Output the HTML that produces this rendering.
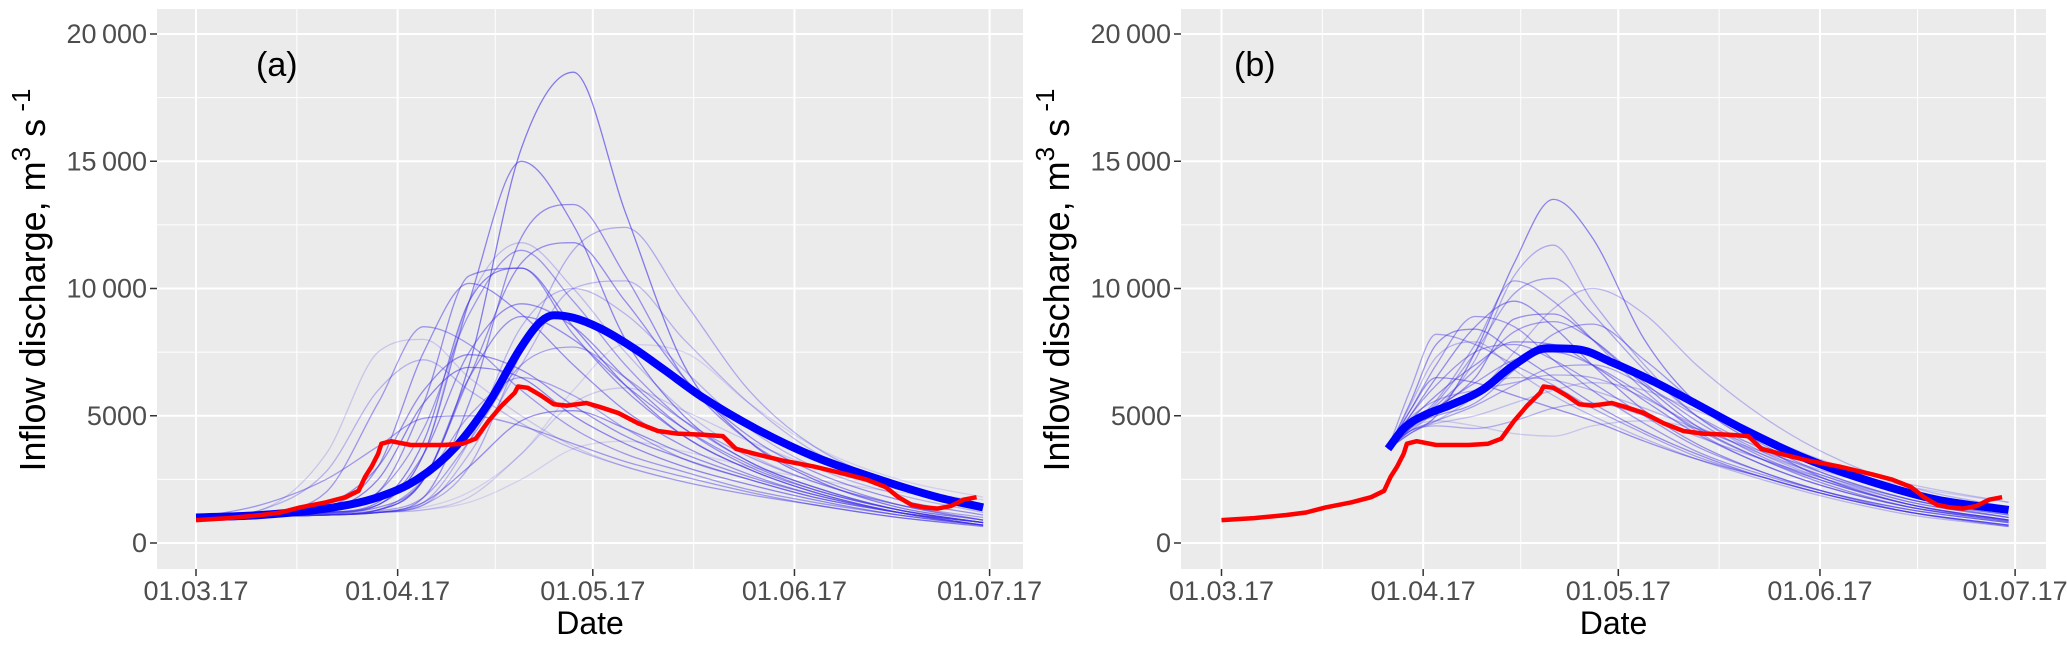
<!DOCTYPE html>
<html><head><meta charset="utf-8">
<style>
body{margin:0;background:#fff;}
svg{display:block;font-family:"Liberation Sans",sans-serif;}
</style></head>
<body>
<svg id="fig" width="2067" height="646" viewBox="0 0 2067 646"></svg>
<script>
// ---------- data ----------
const yTicks = [0, 5000, 10000, 15000, 20000];
const yTickLabels = ["0", "5000", "10\u2009000", "15\u2009000", "20\u2009000"];
const xTickDays = [0, 31, 61, 92, 122];
const xTickLabels = ["01.03.17", "01.04.17", "01.05.17", "01.06.17", "01.07.17"];

const obsDays = [0,5,10,13,16,20,23,25,26,27,28,28.5,30,33,38,41,43,45,47,49,49.5,51,53,55,57,60,62,65,68,71,74,78,81,83,86,90,95,100,103,106,108,110,112,114,116,118,120];
const obsVals = [900,980,1100,1200,1400,1600,1800,2050,2600,3000,3500,3900,4000,3850,3850,3900,4100,4800,5400,5900,6150,6100,5800,5450,5400,5500,5350,5100,4700,4400,4300,4250,4200,3700,3500,3250,3000,2700,2500,2200,1800,1500,1400,1350,1450,1700,1800];

const meanADays = [0,10,20,28,34,40,45,50,53,55,58,62,67,72,78,86,95,105,114,121];
const meanAVals = [1000,1100,1350,1800,2500,3800,5500,7700,8700,8950,8850,8450,7700,6800,5700,4500,3400,2500,1800,1400];

const meanBDays = [25.6,28,31,35,40,45,50,55,60,66,72,80,90,100,110,121];
const meanBVals = [3700,4500,5000,5400,6000,7000,7650,7600,7100,6400,5600,4500,3300,2400,1700,1300];

const ensADays = [0,10,20,28,35,42,50,58,66,75,85,95,108,121];
const ensA = [
[1000,1050,1100,1300,2500,7000,15500,18500,13000,7000,4000,2500,1400,900],
[1000,1050,1150,1500,3500,9500,15000,12500,8000,5000,3200,2200,1300,800],
[1000,1050,1100,1200,1800,5500,12000,13300,10500,6500,4000,2600,1500,900],
[1000,1050,1100,1200,1500,3000,7500,11500,12400,9500,6000,3800,2300,1500],
[1000,1100,1200,1400,2500,6500,11000,11800,9500,6500,4200,2800,1700,1100],
[1000,1100,1300,2000,4500,9000,11500,9500,7000,4800,3200,2200,1300,800],
[1000,1100,1200,1600,4000,9500,10800,8500,6200,4200,2900,2000,1200,700],
[1000,1100,1400,3000,7500,10200,9000,7000,5200,3800,2700,1900,1200,700],
[1000,1050,1100,1200,1600,4000,8500,10000,9000,6800,4500,3000,1900,1200],
[1000,1100,1200,1500,3500,7500,9400,8500,6500,4500,3000,2100,1300,800],
[1000,1200,2000,5500,8500,7800,6000,4500,3500,2800,2100,1600,1100,700],
[1000,1300,3500,7500,8000,6500,5000,3800,3000,2400,1900,1500,1000,650],
[1000,1100,1500,3000,6000,7400,6800,5400,4200,3300,2500,1800,1200,800],
[1000,1100,1300,2500,5500,6900,6500,5000,3900,3000,2300,1700,1100,700],
[1000,1050,1100,1300,2500,5000,6500,5800,4500,3300,2500,1800,1200,800],
[1000,1050,1100,1200,1600,3000,4800,5200,4500,3500,2600,1900,1200,800],
[1000,1500,2500,3800,4900,5000,4600,3900,3200,2600,2000,1500,1000,650],
[1000,1050,1100,1200,1400,2000,3500,6000,7800,7500,5500,3800,2500,1800],
[1000,1050,1100,1200,1500,3500,7000,10000,10300,8000,5500,3600,2200,1400],
[1000,1100,1200,1500,3500,9500,11800,10000,7500,5200,3500,2400,1500,900],
[1000,1100,1150,1300,2500,6500,8900,8000,6200,4500,3100,2100,1300,800],
[1000,1050,1100,1200,1300,1800,3500,5500,6100,5200,4000,3000,2100,1500],
[1000,1100,1300,2000,5500,10500,10800,8200,6000,4200,2900,2000,1200,700],
[1000,1050,1100,1200,1300,1600,2500,3700,4000,3600,3000,2500,2000,1700],
[1000,1050,1100,1250,1800,4000,7000,7700,6500,4800,3400,2400,1500,1000],
[1000,1300,2800,6000,7200,6000,4700,3700,3000,2400,1900,1500,1000,700]
];
const ensAAlpha = [0.6,0.55,0.5,0.35,0.5,0.45,0.55,0.5,0.3,0.5,0.45,0.2,0.5,0.55,0.4,0.5,0.45,0.15,0.3,0.25,0.5,0.2,0.5,0.15,0.4,0.3];

const ensBDays = [25.6,29,33,39,45,51,57,65,73,83,93,106,121];
const ensB = [
[3700,4300,5000,7500,11000,13500,12000,8000,5500,3800,2500,1500,900],
[3700,4400,5200,7200,10500,11700,9500,7000,5000,3500,2500,1500,900],
[3700,4500,5500,7500,9800,10400,9000,6800,5000,3600,2600,1600,1000],
[3700,4300,4800,5800,7500,9200,10000,9000,7000,5000,3500,2200,1400],
[3700,5000,6500,8500,9500,8500,7000,5200,3900,2800,2000,1300,800],
[3700,5200,7000,8900,8500,7200,6000,4700,3600,2700,2000,1300,800],
[3700,5500,7800,8400,7500,6500,5500,4400,3500,2600,1900,1200,700],
[3700,6000,8200,7800,7000,6200,5300,4300,3400,2600,1900,1200,700],
[3700,4800,5800,7000,7900,7800,7000,5600,4300,3100,2200,1400,900],
[3700,4600,5300,6300,7200,7500,7000,5800,4500,3300,2400,1500,900],
[3700,4400,4800,5400,6200,6900,7000,6200,5000,3700,2700,1700,1100],
[3700,5200,6500,6300,5800,5300,4800,4000,3300,2600,1900,1200,700],
[3700,4400,4600,4500,4800,5300,5500,5000,4200,3300,2500,1600,1000],
[3700,4500,4800,4600,4300,4200,4600,4800,4500,3800,3000,2200,1600],
[3700,4600,5000,5500,6800,8200,8600,7200,5500,3900,2700,1700,1000],
[3700,4700,5300,6500,8800,9000,8000,6200,4600,3300,2300,1400,850],
[3700,4500,5100,6000,6500,6400,6000,5300,4500,3600,2800,2000,1400],
[3700,5000,6200,7500,7800,7200,6300,5000,3800,2800,2000,1200,650],
[3700,4400,4700,5000,5500,6000,6300,6000,5200,4200,3200,2300,1600],
[3700,4600,5600,7800,10300,9500,8000,6000,4400,3100,2200,1400,850],
[3700,4500,5400,6800,8300,8700,8000,6300,4800,3400,2400,1500,900],
[3700,4900,5600,6000,6300,6600,6500,5700,4600,3500,2600,1700,1100],
[3700,5400,7300,7900,6800,5800,5000,4100,3300,2500,1800,1100,650]
];
const ensBAlpha = [0.55,0.35,0.4,0.3,0.5,0.45,0.5,0.4,0.5,0.45,0.4,0.5,0.35,0.2,0.45,0.5,0.3,0.45,0.25,0.4,0.45,0.35,0.3];

// ---------- layout ----------
const svg = document.getElementById('fig');
const NS = 'http://www.w3.org/2000/svg';
function el(tag, attrs, parent){const e=document.createElementNS(NS,tag);for(const k in attrs)e.setAttribute(k,attrs[k]);(parent||svg).appendChild(e);return e;}

const panels = [
 {id:'a', left:157, right:1023, x0:196, label:'(a)', labelX:256, ens:ensA, ensDays:ensADays, alpha:ensAAlpha, mDays:meanADays, mVals:meanAVals},
 {id:'b', left:1181, right:2046, x0:1221.5, label:'(b)', labelX:1234, ens:ensB, ensDays:ensBDays, alpha:ensBAlpha, mDays:meanBDays, mVals:meanBVals}
];
const plotTop=9, plotBottom=569, y0px=543, pxPer1000=25.45, pxPerDay=6.505;

function monotonePath(xs, ys){
  const n=xs.length; if(n<2) return '';
  const d=[],m=new Array(n);
  for(let i=0;i<n-1;i++) d.push((ys[i+1]-ys[i])/(xs[i+1]-xs[i]));
  m[0]=d[0]; m[n-1]=d[n-2];
  for(let i=1;i<n-1;i++){ m[i]=(d[i-1]*d[i]<=0)?0:(d[i-1]+d[i])/2; }
  for(let i=0;i<n-1;i++){
    if(d[i]===0){m[i]=0;m[i+1]=0;continue;}
    const a=m[i]/d[i], b=m[i+1]/d[i], s=a*a+b*b;
    if(s>9){const t=3/Math.sqrt(s);m[i]=t*a*d[i];m[i+1]=t*b*d[i];}
  }
  let p=`M${xs[0].toFixed(1)},${ys[0].toFixed(1)}`;
  for(let i=0;i<n-1;i++){
    const h=(xs[i+1]-xs[i])/3;
    p+=`C${(xs[i]+h).toFixed(1)},${(ys[i]+m[i]*h).toFixed(1)} ${(xs[i+1]-h).toFixed(1)},${(ys[i+1]-m[i+1]*h).toFixed(1)} ${xs[i+1].toFixed(1)},${ys[i+1].toFixed(1)}`;
  }
  return p;
}

panels.forEach(P=>{
  const X = d => P.x0 + d*pxPerDay;
  const Y = v => y0px - v/1000*pxPer1000;
  const g = el('g',{});
  
  
  const bg = el('rect',{x:P.left,y:plotTop,width:P.right-P.left,height:plotBottom-plotTop,fill:'#ebebeb'},g);
  
  
  for(let i=0;i<yTicks.length-1;i++){
    const v=(yTicks[i]+yTicks[i+1])/2;
    el('line',{x1:P.left,x2:P.right,y1:Y(v),y2:Y(v),stroke:'#fff','stroke-width':1},g);
  }
  for(let i=0;i<xTickDays.length-1;i++){
    const d=(xTickDays[i]+xTickDays[i+1])/2;
    el('line',{x1:X(d),x2:X(d),y1:plotTop,y2:plotBottom,stroke:'#fff','stroke-width':1},g);
  }
  yTicks.forEach((v,i)=>{
    el('line',{x1:P.left,x2:P.right,y1:Y(v),y2:Y(v),stroke:'#fff','stroke-width':2},g);
    el('line',{x1:P.left-7,x2:P.left,y1:Y(v),y2:Y(v),stroke:'#333','stroke-width':1.5},g);
    const t=el('text',{x:P.left-10,y:Y(v)+9,'text-anchor':'end','font-size':27,fill:'#4d4d4d'},g);
    t.textContent=yTickLabels[i];
    
    
  });
  xTickDays.forEach((d,i)=>{
    el('line',{x1:X(d),x2:X(d),y1:plotTop,y2:plotBottom,stroke:'#fff','stroke-width':2},g);
    el('line',{x1:X(d),x2:X(d),y1:plotBottom,y2:plotBottom+7,stroke:'#333','stroke-width':1.5},g);
    const t=el('text',{x:X(d),y:plotBottom+31,'text-anchor':'middle','font-size':27,fill:'#4d4d4d'},g);
    t.textContent=xTickLabels[i];
    
    
  });
  const clip = el('clipPath',{id:'clip'+P.id},g);
  el('rect',{x:P.left,y:plotTop,width:P.right-P.left,height:plotBottom-plotTop},clip);
  const series = el('g',{'clip-path':`url(#clip${P.id})`},g);
  P.ens.forEach((vals,k)=>{
    const path = el('path',{d:monotonePath(P.ensDays.map(X), vals.map(Y)),fill:'none',stroke:'#3d2ee8','stroke-opacity':P.alpha[k],'stroke-width':1.3},series);
    
    
  });
  const mp = el('path',{d:monotonePath(P.mDays.map(X),P.mVals.map(Y)),fill:'none',stroke:'#0000ff','stroke-width':8,'stroke-linejoin':'round'},series);
  
  
  const op = el('path',{d:'M'+obsDays.map((d,i)=>X(d).toFixed(1)+','+Y(obsVals[i]).toFixed(1)).join('L'),fill:'none',stroke:'#ff0000','stroke-width':4.5,'stroke-linejoin':'round'},series);
  
  
  const lab = el('text',{x:P.labelX,y:76,'font-size':34,fill:'#000'},g);
  lab.textContent=P.label;
  
  
  const xt = el('text',{x:(P.left+P.right)/2,y:634,'text-anchor':'middle','font-size':32,fill:'#000'},g);
  xt.textContent='Date';
  
  
  const ytx = P.left-112;
  const yt = el('text',{transform:`translate(${ytx},280) rotate(-90)`,'text-anchor':'middle','font-size':36,fill:'#000'},g);
  
  
  const parts=[['Inflow discharge, m',0],['3',-15],[' s',15],[' -1',-15],['',15]];
  parts.forEach(([s,dy])=>{const ts=el('tspan',{dy:dy,'font-size':(s==='3'||s===' -1')?26:36},yt);ts.textContent=s;});
});
</script>
</body></html>
